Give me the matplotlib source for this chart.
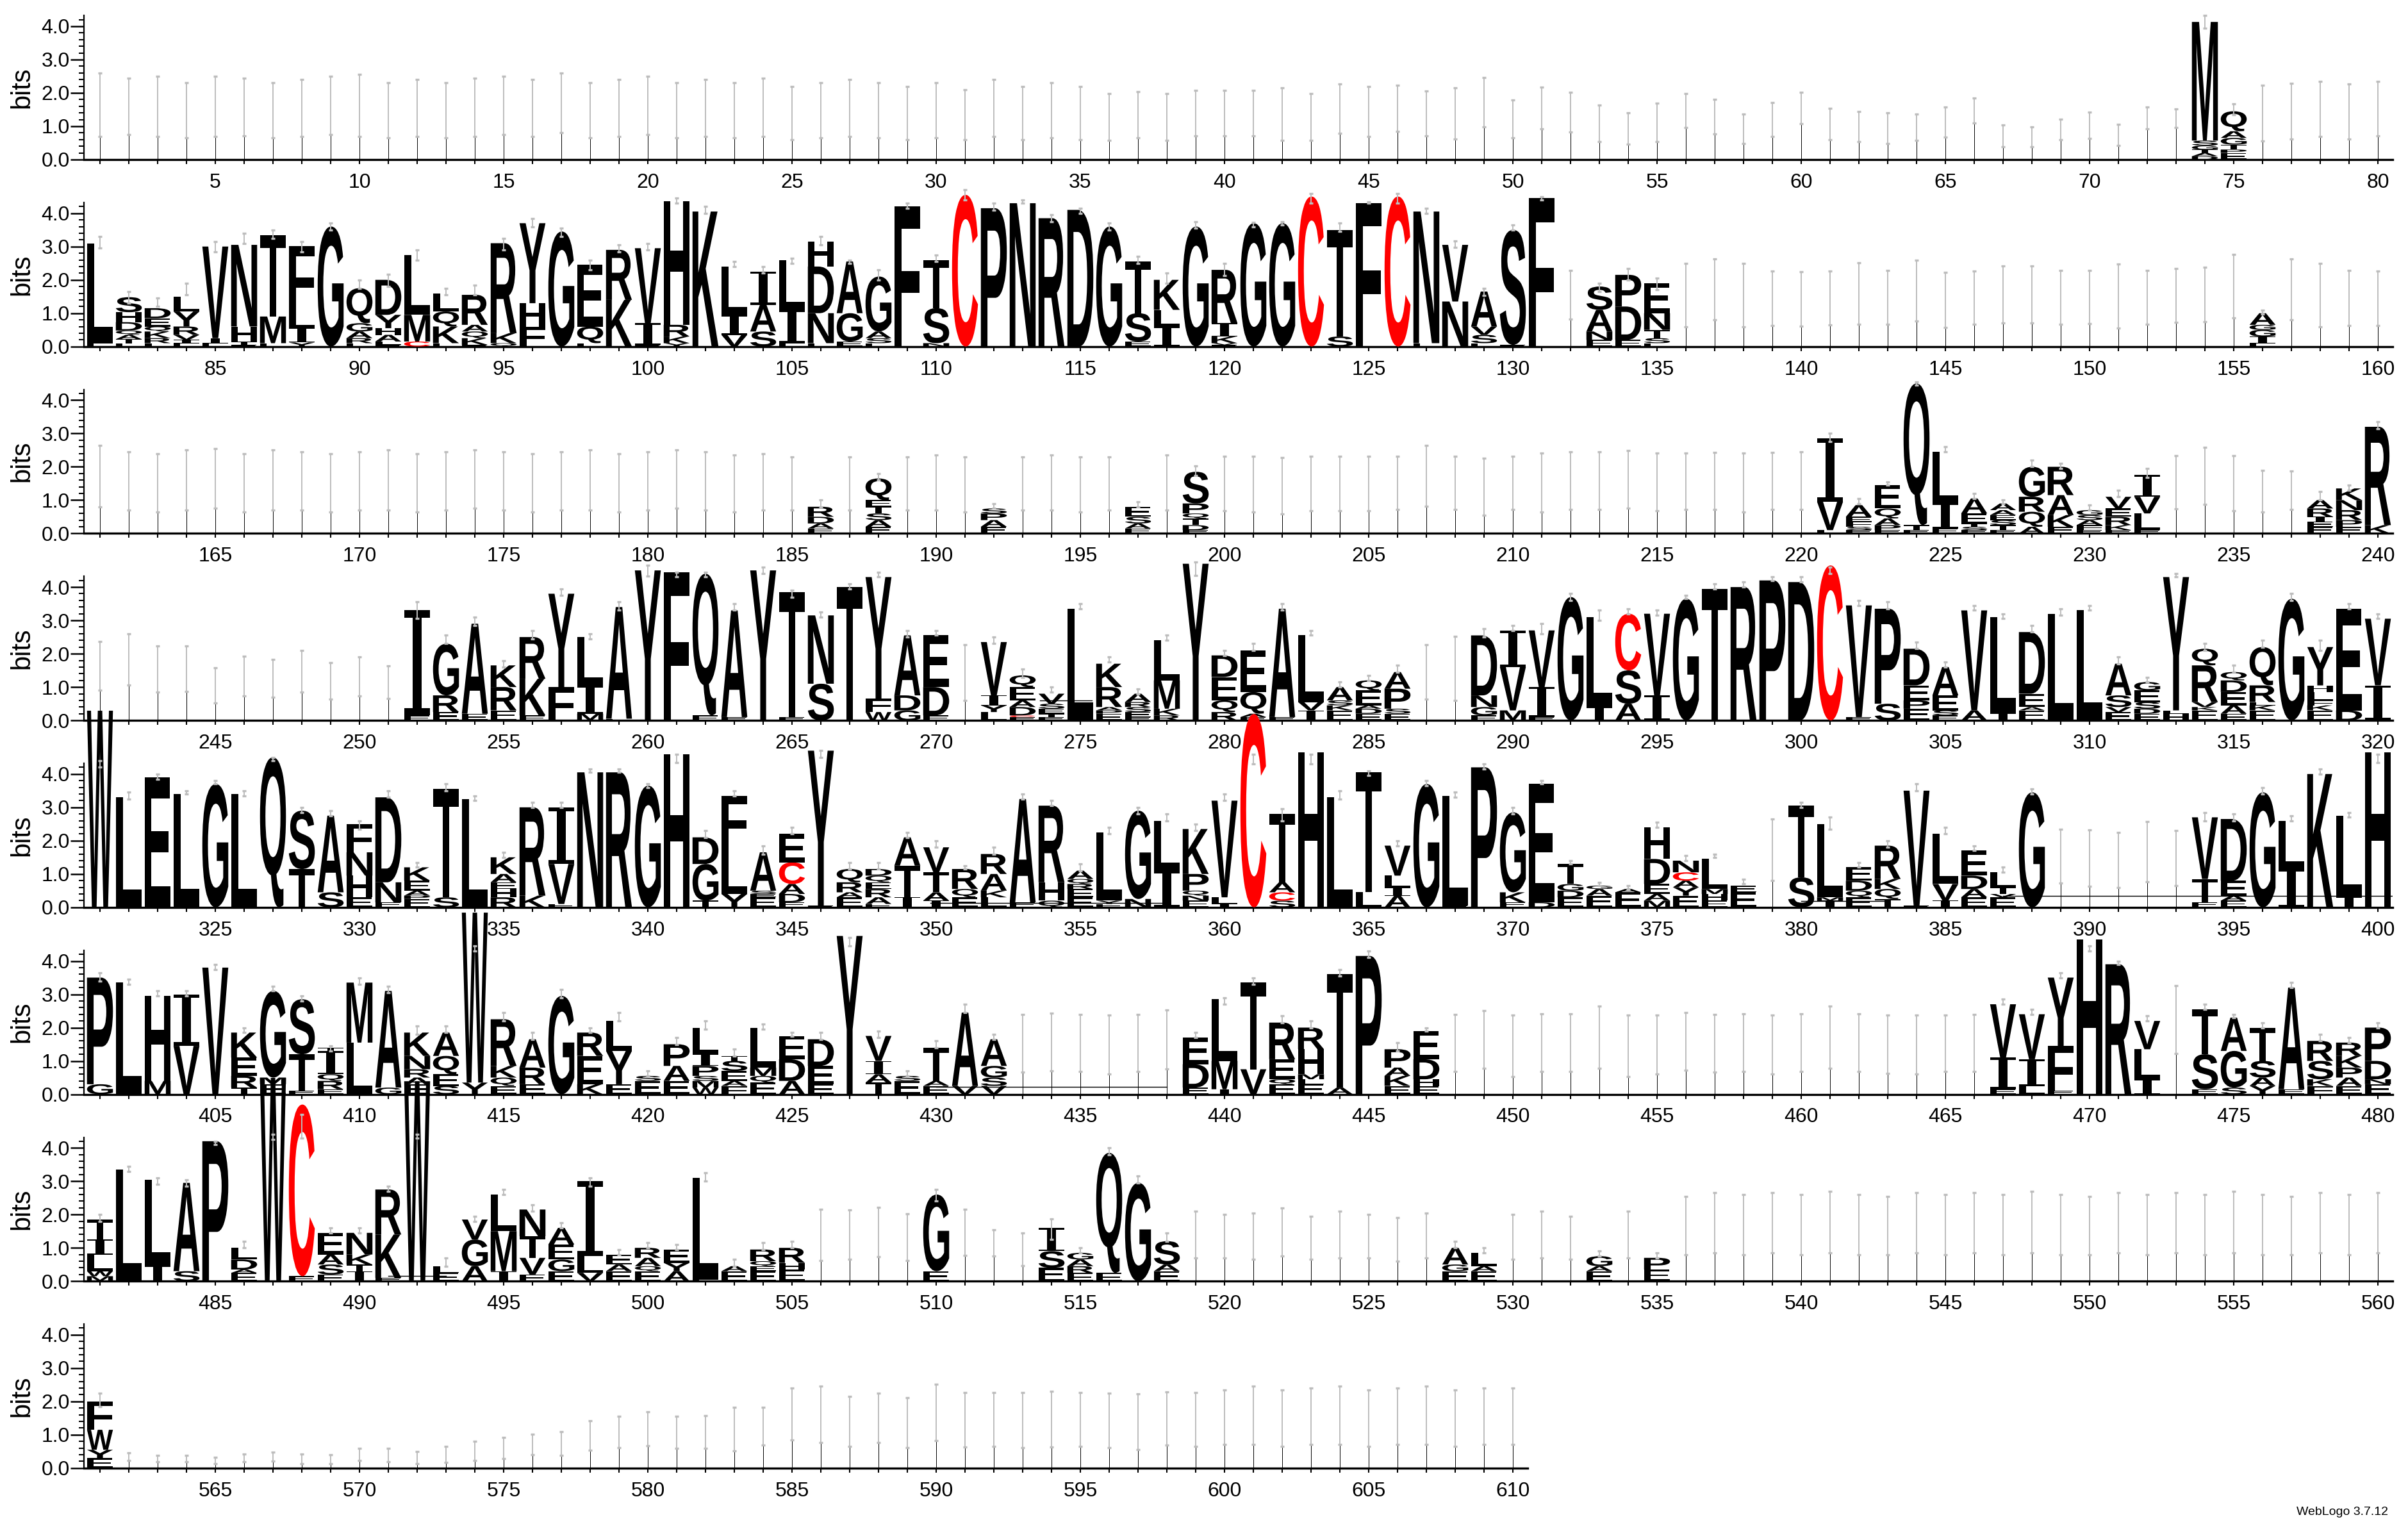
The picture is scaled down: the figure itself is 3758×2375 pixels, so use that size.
import matplotlib
matplotlib.use("Agg")
import matplotlib.pyplot as plt
from matplotlib.textpath import TextPath
from matplotlib.patches import PathPatch
from matplotlib.font_manager import FontProperties
from matplotlib.transforms import Affine2D
from matplotlib.ticker import MultipleLocator

plt.rcParams['font.family'] = ['Liberation Sans', 'DejaVu Sans']

# ---- data: stacks are letter+height (bits), bottom to top; then error bar lo, hi ----
row1_letters = {
    74: ("D.1 A.1 T.1 G.12 S.15 M3.56", 3.94, 4.33),
    75: ("E.2 P.1 T.15 G.2 A.2 Q.6", 1.35, 1.68),
}
row1_gaps = {
    1: (0.7, 2.6), 2: (0.75, 2.45), 3: (0.7, 2.5), 4: (0.65, 2.3), 5: (0.7, 2.5),
    6: (0.72, 2.45), 7: (0.65, 2.3), 8: (0.7, 2.4), 9: (0.75, 2.5), 10: (0.7, 2.55),
    11: (0.65, 2.3), 12: (0.7, 2.4), 13: (0.65, 2.3), 14: (0.7, 2.45), 15: (0.75, 2.5),
    16: (0.7, 2.4), 17: (0.8, 2.6), 18: (0.65, 2.3), 19: (0.7, 2.4), 20: (0.75, 2.5),
    21: (0.65, 2.3), 22: (0.7, 2.4), 23: (0.65, 2.3), 24: (0.7, 2.45), 25: (0.6, 2.2),
    26: (0.65, 2.3), 27: (0.7, 2.4), 28: (0.65, 2.3), 29: (0.6, 2.2), 30: (0.65, 2.3),
    31: (0.6, 2.1), 32: (0.7, 2.4), 33: (0.6, 2.2), 34: (0.65, 2.3), 35: (0.6, 2.2),
    36: (0.58, 1.98), 37: (0.65, 2.03), 38: (0.57, 1.99), 39: (0.72, 2.07), 40: (0.72, 2.08),
    41: (0.72, 2.08), 42: (0.58, 2.15), 43: (0.58, 1.98), 44: (0.78, 2.26), 45: (0.69, 2.19),
    46: (0.84, 2.24), 47: (0.72, 2.06), 48: (0.62, 2.15), 49: (0.99, 2.47), 50: (0.65, 1.79),
    51: (0.92, 2.17), 52: (0.83, 2.01), 53: (0.53, 1.63), 54: (0.47, 1.40), 55: (0.54, 1.70),
    56: (0.97, 1.99), 57: (0.76, 1.81), 58: (0.49, 1.37), 59: (0.69, 1.72), 60: (1.07, 2.01),
    61: (0.60, 1.54), 62: (0.53, 1.44), 63: (0.49, 1.40), 64: (0.57, 1.37), 65: (0.68, 1.57),
    66: (1.10, 1.85), 67: (0.39, 1.03), 68: (0.39, 0.99), 69: (0.60, 1.21), 70: (0.64, 1.42),
    71: (0.42, 1.05), 72: (0.93, 1.57), 73: (0.96, 1.51), 76: (0.56, 2.24), 77: (0.62, 2.28),
    78: (0.70, 2.34), 79: (0.62, 2.26), 80: (0.72, 2.34),
}

row2_letters = {
    81: ("E.1 L3.0", 2.95, 3.3), 82: ("E.1 T.12 A.13 Q.13 D.25 H.3 S.45", 1.3, 1.65),
    83: ("L.1 R.15 K.2 Q.15 E.25 D.3", 1.2, 1.45), 84: ("E.1 I.1 V.15 R.25 Y.45 L.45", 1.55, 1.9),
    85: ("E.1 I.15 V2.75", 2.85, 3.15), 86: ("E.05 T.1 H.45 N2.45", 3.1, 3.4),
    87: ("E.1 M.8 T2.45", 3.25, 3.5), 88: ("Y.12 I.45 L.45 F2.0", 2.85, 3.15),
    89: ("G3.6", 3.5, 3.7), 90: ("E.1 R.15 A.2 G.25 Q1.05", 1.75, 2.0),
    91: ("E.05 L.1 A.2 H.2 Y.4 D1.05", 1.8, 2.17), 92: ("C.15 M.8 L1.8", 2.6, 2.9),
    93: ("E.1 K.5 Q.45 L.55", 1.55, 1.75), 94: ("E.05 K.2 Q.2 A.2 R.9", 1.55, 1.85),
    95: ("Q.1 K.3 R2.7", 2.9, 3.25), 96: ("F.6 H.7 Y2.4", 3.6, 3.85),
    97: ("G3.45", 3.3, 3.55), 98: ("E.1 Q.5 E1.85", 2.3, 2.6),
    99: ("K1.4 R1.5", 2.85, 3.05), 100: ("E.05 I.65 V2.25", 2.9, 3.1),
    101: ("Y.1 K.2 R.35 H3.7", 4.3, 4.45), 102: ("K4.05", 4.0, 4.2),
    103: ("V.35 I.6 L1.45", 2.4, 2.55), 104: ("S.45 A.8 I1.0", 2.2, 2.4),
    105: ("E.1 I1.0 L1.5", 2.5, 2.65), 106: ("E.1 N.9 D1.4 H.75", 3.05, 3.3),
    107: ("E.15 G.85 A1.55", 2.5, 2.6), 108: ("E.1 S.15 A.2 G1.65", 2.0, 2.3),
    109: ("L.1 F4.1", 4.15, 4.3), 110: ("N.1 S1.05 T1.45", 2.55, 2.75),
    111: ("C4.55", 4.4, 4.7), 112: ("P4.15", 4.1, 4.3), 113: ("N4.3", 4.3, 4.4),
    114: ("R3.85", 3.75, 3.95), 115: ("D4.1", 4.0, 4.15), 116: ("G3.6", 3.5, 3.7),
    117: ("E.15 S.85 T1.55", 2.5, 2.7), 118: ("I.6 L.5 K.9", 1.9, 2.2),
    119: ("G3.6", 3.55, 3.74), 120: ("E.05 V.05 K.2 I.4 R1.6", 2.13, 2.49),
    121: ("G3.7", 3.6, 3.72), 122: ("G3.7", 3.65, 3.75), 123: ("C4.5", 4.3, 4.6),
    124: ("S.3 T3.2", 3.45, 3.7), 125: ("F4.3", 4.3, 4.35), 126: ("C4.5", 4.3, 4.6),
    127: ("E.1 N3.95", 4.0, 4.15), 128: ("N1.35 V1.7", 2.97, 3.16),
    129: ("E.1 S.25 V.25 A1.05", 1.53, 1.75), 130: ("E.05 S3.45", 3.5, 3.65),
    131: ("F4.45", 4.4, 4.5), 133: ("E.2 N.25 A.65 S.7", 1.65, 1.9),
    134: ("E.2 D1.0 P.95", 2.0, 2.35), 135: ("E.1 S.15 T.25 N.5 E.9", 1.7, 2.05),
    156: ("E.1 I.2 G.2 G.15 A.35", 0.98, 1.1),
}
row2_gaps = {
    132: (0.82, 2.29), 136: (0.6, 2.49), 137: (0.8, 2.62), 138: (0.6, 2.5), 139: (0.62, 2.26),
    140: (0.61, 2.25), 141: (0.64, 2.27), 142: (0.66, 2.52), 143: (0.66, 2.29), 144: (0.76, 2.59),
    145: (0.57, 2.22), 146: (0.67, 2.26), 147: (0.71, 2.42), 148: (0.71, 2.42), 149: (0.67, 2.29),
    150: (0.69, 2.29), 151: (0.55, 2.48), 152: (0.67, 2.29), 153: (0.72, 2.35), 154: (0.74, 2.38),
    155: (0.86, 2.77), 157: (0.8, 2.62), 158: (0.6, 2.5), 159: (0.62, 2.29), 160: (0.62, 2.27),
}

row3_letters = {
    186: ("E.15 A.15 D.2 R.3", 0.8, 1.0), 188: ("E.2 A.2 S.2 T.2 E.2 Q.65", 1.6, 1.8),
    192: ("E.2 A.2 P.2 S.15", 0.75, 0.9), 197: ("E.15 A.15 S.2 E.3", 0.8, 0.95),
    199: ("E.1 D.15 T.2 Q.15 P.3 S.95", 1.74, 2.03),
    221: ("L.1 V.85 I1.9", 2.75, 3.0), 222: ("E.1 S.1 F.15 E.15 A.35", 0.9, 1.05),
    223: ("E.1 P.15 A.2 Q.3 E.7", 1.45, 1.55), 224: ("E.1 T.15 Q4.25", 4.45, 4.55),
    225: ("E.15 I.75 L1.55", 2.45, 2.6), 226: ("E.1 S.1 T.1 E.3 A.45", 1.05, 1.2),
    227: ("E.1 T.15 S.15 E.15 A.15 A.2", 0.9, 1.0), 228: ("A.2 Q.45 R.45 G.9", 2.0, 2.2),
    229: ("E.2 K.35 A.6 R.85", 1.95, 2.1), 230: ("E.1 F.15 A.15 S.15 G.15", 0.7, 0.85),
    231: ("E.1 K.15 R.25 E.25 V.35", 1.1, 1.3), 232: ("E.1 L.5 V.5 I.65", 1.68, 1.95),
    238: ("E.2 E.15 I.15 R.25 A.25", 1.0, 1.25), 239: ("E.2 P.2 R.3 N.3 K.35", 1.3, 1.45),
    240: ("K.25 R2.95", 3.15, 3.35),
}
row3_gaps = {
    161: (0.8, 2.65), 162: (0.7, 2.45), 163: (0.65, 2.4), 164: (0.7, 2.5), 165: (0.75, 2.55),
    166: (0.65, 2.4), 167: (0.7, 2.5), 168: (0.7, 2.45), 169: (0.65, 2.4), 170: (0.7, 2.45),
    171: (0.7, 2.5), 172: (0.65, 2.4), 173: (0.7, 2.45), 174: (0.75, 2.5), 175: (0.7, 2.45),
    176: (0.65, 2.4), 177: (0.7, 2.45), 178: (0.7, 2.5), 179: (0.65, 2.4), 180: (0.7, 2.45),
    181: (0.75, 2.5), 182: (0.7, 2.45), 183: (0.65, 2.35), 184: (0.7, 2.4), 185: (0.7, 2.3),
    187: (0.7, 2.3), 189: (0.7, 2.3), 190: (0.7, 2.35), 191: (0.65, 2.3), 193: (0.7, 2.3),
    194: (0.7, 2.35), 195: (0.65, 2.3), 196: (0.7, 2.3), 198: (0.7, 2.35),
    200: (0.68, 2.31), 201: (0.65, 2.31), 202: (0.59, 2.27), 203: (0.68, 2.31), 204: (0.68, 2.31),
    205: (0.68, 2.31), 206: (0.72, 2.32), 207: (0.82, 2.64), 208: (0.72, 2.32), 209: (0.55, 2.25),
    210: (0.71, 2.31), 211: (0.65, 2.41), 212: (0.72, 2.45), 213: (0.72, 2.45), 214: (0.76, 2.49),
    215: (0.68, 2.42), 216: (0.71, 2.42), 217: (0.72, 2.44), 218: (0.65, 2.41), 219: (0.71, 2.44),
    220: (0.72, 2.45), 233: (0.74, 2.33), 234: (0.88, 2.59), 235: (0.69, 2.33), 236: (0.65, 1.9),
    237: (0.72, 1.87),
}

row4_letters = {
    252: ("E.15 I3.15", 3.05, 3.55), 253: ("E.25 R.5 G1.55", 2.3, 2.55),
    254: ("E.2 A2.7", 2.85, 3.1), 255: ("E.3 R.7 K.65", 1.6, 1.8),
    256: ("E.15 K1.1 R1.25", 2.45, 2.7), 257: ("F1.0 Y2.8", 3.75, 3.95),
    258: ("M.2 I.85 L1.45", 2.45, 2.6), 259: ("E.05 A3.35", 3.3, 3.55),
    260: ("Y4.5", 4.33, 4.65), 261: ("F4.45", 4.3, 4.45), 262: ("E.15 Q4.25", 4.3, 4.45),
    263: ("E.1 A3.2", 3.3, 3.5), 264: ("Y4.5", 4.4, 4.6), 265: ("E.1 T3.75", 3.7, 3.9),
    266: ("S1.1 N2.05", 3.1, 3.25), 267: ("T4.0", 3.95, 4.1), 268: ("W.25 F.4 Y3.65", 4.3, 4.45),
    269: ("G.3 D.45 A1.8", 2.5, 2.7), 270: ("E.15 D.85 E1.55", 2.55, 2.7),
    272: ("L.25 Y.2 I.3 V1.6", 2.3, 2.5), 273: ("E.1 C.05 D.25 A.2 E.4 Q.35", 1.3, 1.55),
    274: ("E.1 T.1 E.15 S.15 V.3", 0.85, 1.0), 275: ("L3.35", 3.35, 3.5),
    276: ("E.2 P.1 A.1 R.6 K.7", 1.75, 1.9), 277: ("E.1 E.15 S.15 R.15 A.25", 0.8, 0.95),
    278: ("R.15 K.2 M.85 L1.2", 2.4, 2.55), 279: ("Y4.7", 4.35, 4.75),
    280: ("R.25 Q.35 E.7 D.65", 1.95, 2.1), 281: ("E.1 A.1 Q.65 E1.25", 2.1, 2.3),
    282: ("E.1 A3.25", 3.3, 3.5), 283: ("I.3 V.25 L2.0", 2.55, 2.7),
    284: ("E.3 K.15 S.15 A.4", 1.0, 1.15), 285: ("E.2 D.15 A.1 E.45 Q.3", 1.2, 1.35),
    286: ("E.2 S.15 P.6 A.5", 1.45, 1.65), 289: ("E.15 G.25 N.35 D1.8", 2.5, 2.75),
    290: ("M.3 V1.3 I1.1", 2.7, 2.85), 291: ("E.1 I.9 V1.7", 2.6, 2.9),
    292: ("G3.7", 3.6, 3.8), 293: ("I.4 L2.7", 3.0, 3.3), 294: ("A.5 S1.0 C1.7", 3.2, 3.35),
    295: ("I.75 V2.45", 3.15, 3.3), 296: ("G3.65", 3.65, 3.75), 297: ("T3.95", 3.95, 4.1),
    298: ("R4.0", 4.0, 4.15), 299: ("P4.2", 4.2, 4.3), 300: ("D4.15", 4.15, 4.3),
    301: ("C4.65", 4.4, 4.6), 302: ("E.1 V3.35", 3.45, 3.6), 303: ("S.5 P2.85", 3.35, 3.55),
    304: ("E.35 P.25 E.45 D1.1", 2.15, 2.35), 305: ("E.15 S.15 E.45 A.85", 1.6, 1.75),
    306: ("A.3 V3.0", 3.3, 3.45), 307: ("I.2 L2.9", 3.05, 3.2),
    308: ("E.3 A.1 E.4 D1.85", 2.65, 2.85), 309: ("L3.2", 3.15, 3.35), 310: ("L3.3", 3.3, 3.45),
    311: ("E.25 V.15 S.35 A.95", 1.7, 1.9), 312: ("E.2 D.15 S.2 E.35 G.25", 1.15, 1.3),
    313: ("H.2 L.1 Y4.0", 4.3, 4.4), 314: ("E.3 K.1 V.15 R1.1 Q.5", 2.1, 2.3),
    315: ("E.2 A.25 E.4 D.35 Q.25", 1.45, 1.65), 316: ("E.3 K.15 E.1 R.5 Q1.15", 2.2, 2.4),
    317: ("G3.65", 3.6, 3.8), 318: ("E.3 K.15 F.15 L.25 H.2 Y1.15", 2.1, 2.4),
    319: ("D.3 E3.05", 3.35, 3.5), 320: ("I1.05 V2.0", 3.05, 3.2),
}
row4_gaps = {
    241: (0.9, 2.37), 242: (1.06, 2.6), 243: (0.85, 2.24), 244: (0.87, 2.24), 245: (0.53, 1.57),
    246: (0.74, 1.92), 247: (0.69, 1.83), 248: (0.84, 2.1), 249: (0.64, 1.74), 250: (0.74, 1.9),
    251: (0.65, 1.63), 271: (0.6, 2.27), 287: (0.63, 2.27), 288: (0.6, 2.52),
}

row5_letters = {
    321: ("W5.9", 4.2, 4.4), 322: ("L3.3", 3.25, 3.45), 323: ("E3.9", 3.85, 4.0),
    324: ("L3.4", 3.4, 3.5), 325: ("G3.7", 3.7, 3.8), 326: ("L3.4", 3.35, 3.5),
    327: ("Q4.5", 4.4, 4.5), 328: ("T1.15 S1.75", 2.85, 3.0), 329: ("S.45 A2.3", 2.75, 2.9),
    330: ("E.3 H.65 N.7 F.85", 2.35, 2.6), 331: ("E.15 N.6 D2.55", 3.3, 3.5),
    332: ("E.25 P.1 A.15 E.3 K.4", 1.2, 1.35), 333: ("S.3 T3.25", 3.5, 3.7),
    334: ("L3.25", 3.2, 3.35), 335: ("R.3 H.25 E.2 A.25 K.5", 1.5, 1.65),
    336: ("K.35 R2.65", 3.0, 3.15), 337: ("E.1 V1.2 I1.7", 3.0, 3.15),
    338: ("N4.05", 4.05, 4.15), 339: ("R4.05", 4.05, 4.15), 340: ("G3.65", 3.6, 3.7),
    341: ("H4.6", 4.35, 4.6), 342: ("T.2 G1.1 D.8", 2.1, 2.3), 343: ("Y.4 L1.4 F1.55", 3.35, 3.5),
    344: ("E.3 E.1 S.1 A1.15", 1.6, 1.85), 345: ("E.15 D.25 A.3 C.65 E.85", 2.2, 2.4),
    346: ("E.05 Y4.65", 4.5, 4.7), 347: ("E.3 A.15 R.3 Q.4", 1.15, 1.35),
    348: ("E.1 A.2 R.25 E.2 Q.2 D.2", 1.15, 1.35), 349: ("I.3 T.95 A.85", 2.1, 2.25),
    350: ("I.2 A.25 T.6 V.75", 1.8, 2.0), 351: ("E.3 Q.25 R.6", 1.15, 1.25),
    352: ("L.3 K.2 A.5 R.6", 1.6, 1.8), 353: ("E.15 A3.1", 3.25, 3.4),
    354: ("Q.2 H.55 R2.3", 3.05, 3.2), 355: ("E.3 E.25 R.15 Q.15 A.25", 1.1, 1.3),
    356: ("E.1 Y.1 L2.05", 2.2, 2.4), 357: ("N.25 G2.65", 2.8, 3.0), 358: ("I1.1 L1.5", 2.6, 2.8),
    359: ("E.2 N.15 Q.15 P.5 K1.35", 2.3, 2.5), 360: ("I.1 L.2 V2.9", 3.2, 3.4),
    361: ("C5.8", 4.3, 4.6), 362: ("S.2 C.25 A.3 T2.05", 2.6, 2.95), 363: ("H4.65", 4.3, 4.6),
    364: ("L3.3", 3.25, 3.5), 365: ("L.45 T3.6", 3.95, 4.1), 366: ("A.35 I.25 L.35 V.9", 1.85, 2.0),
    367: ("G3.7", 3.65, 3.8), 368: ("E.05 L3.3", 3.3, 3.45), 369: ("P4.2", 4.15, 4.3),
    370: ("E.15 K.3 G2.4", 2.8, 3.0), 371: ("D.15 E3.55", 3.7, 3.8),
    372: ("E.3 D.2 G.2 T.6", 1.3, 1.4), 373: ("E.35 A.2 G.1", 0.65, 0.75),
    374: ("E.45 A.1", 0.55, 0.65), 375: ("M.2 A.2 E.3 D.75 H.95", 2.4, 2.55),
    376: ("E.35 Y.25 A.2 C.25 N.35", 1.4, 1.55), 377: ("E.2 H.2 M.15 L.9", 1.5, 1.6),
    378: ("E.45 E.2", 0.7, 0.85), 380: ("S.9 T2.15", 3.0, 3.15), 381: ("I.2 M.1 L2.2", 2.35, 2.7),
    382: ("E.3 Q.2 D.3 E.4", 1.2, 1.35), 383: ("T.25 Q.3 K.3 R1.0", 1.8, 2.0),
    384: ("E.05 V3.45", 3.5, 3.7), 385: ("I.2 V.5 L1.5", 2.2, 2.4),
    386: ("E.3 A.25 D.4 E.75", 1.7, 1.85), 387: ("E.3 V.1 T.2 L.45", 1.05, 1.2),
    388: ("G3.45", 3.4, 3.55), 394: ("E.15 T.7 V1.85", 2.6, 2.85),
    395: ("E.2 A.15 E.45 D1.85", 2.6, 2.8), 396: ("G3.45", 3.4, 3.6),
    397: ("I1.15 L1.45", 2.6, 2.75), 398: ("K4.0", 4.0, 4.15), 399: ("I.3 L2.45", 2.7, 2.85),
    400: ("H4.65", 4.35, 4.6),
}
row5_gaps = {
    379: (0.81, 2.65), 389: (0.72, 2.35), 390: (0.63, 2.32), 391: (0.6, 2.24),
    392: (0.76, 2.58), 393: (0.65, 2.31),
}

row6_letters = {
    401: ("G.3 P3.2", 3.4, 3.65), 402: ("L3.35", 3.3, 3.45), 403: ("M.4 H2.55", 2.95, 3.1),
    404: ("V1.45 I1.55", 2.95, 3.1), 405: ("V3.8", 3.75, 3.9), 406: ("T.2 R.35 E.55 K.75", 1.85, 2.0),
    407: ("E.3 M.2 G2.6", 3.1, 3.25), 408: ("E.1 T1.1 S1.65", 2.8, 2.95),
    409: ("E.15 R.25 Q.2 I.7 T.1", 1.3, 1.45), 410: ("L1.55 M1.8", 3.3, 3.5),
    411: ("G.2 A2.9", 3.05, 3.25), 412: ("E.3 A.2 R.25 N.4 K.7", 1.8, 2.05),
    413: ("S.25 E.35 Q.55 A.7", 1.85, 2.05), 414: ("Y.35 W5.1", 4.3, 4.45),
    415: ("E.25 Q.25 K.35 R1.4", 2.2, 2.45), 416: ("E.3 R.5 A.85", 1.65, 1.85),
    417: ("G2.95", 2.9, 3.15), 418: ("K.3 E.85 R.7", 1.85, 2.0), 419: ("E.3 Y1.0 L.9", 2.2, 2.45),
    420: ("E.4 S.15", 0.55, 0.7), 421: ("E.4 A.45 P.65", 1.5, 1.7),
    422: ("W.2 M.2 S.15 P.3 I.35 L.8", 1.95, 2.2), 423: ("F.25 A.15 E.3 S.3 T.15", 1.15, 1.35),
    424: ("E.35 Q.2 M.25 L1.2", 1.95, 2.1), 425: ("A.4 D.65 E.7", 1.75, 1.85),
    426: ("E.3 E.55 D.8", 1.65, 1.85), 427: ("Y4.75", 4.45, 4.7),
    428: ("T.35 A.25 I.4 V.75", 1.7, 1.9), 429: ("E.4 S.15", 0.55, 0.7),
    430: ("E.25 A.15 T1.0", 1.4, 1.6), 431: ("V.25 A2.2", 2.45, 2.7),
    432: ("V.25 S.25 G.35 A.8", 1.65, 1.8), 439: ("E.2 D.7 E.8", 1.7, 1.85),
    440: ("I.15 M.85 L1.85", 2.7, 2.9), 441: ("V.75 T2.6", 3.3, 3.5),
    442: ("E.3 Q.15 E.6 R1.1", 2.15, 2.35), 443: ("E.3 L.15 M.15 H.75 R.65", 2.0, 2.2),
    444: ("A.2 T3.4", 3.55, 3.75), 445: ("P4.15", 4.1, 4.3), 446: ("E.25 K.3 A.25 P.55", 1.3, 1.55),
    447: ("E.25 H.2 D.6 E.85", 1.9, 2.0), 467: ("E.15 I.95 V1.6", 2.7, 2.85),
    468: ("L.25 I.8 V1.35", 2.4, 2.55), 469: ("E.1 F1.35 Y2.05", 3.5, 3.65),
    470: ("H4.65", 4.3, 4.45), 471: ("R3.9", 3.9, 4.0), 472: ("I.45 L.9 V.85", 2.2, 2.35),
    474: ("E.15 S1.05 T1.35", 2.55, 2.7), 475: ("S.2 G1.1 A1.0", 2.3, 2.4),
    476: ("Y.25 A.25 S.5 T1.0", 2.0, 2.15), 477: ("E.15 A3.05", 3.2, 3.35),
    478: ("F.25 K.2 S.55 R.6", 1.6, 1.8), 479: ("E.25 A.25 P.3 K.35 R.4", 1.55, 1.7),
    480: ("E.3 N.15 D.55 P1.0", 2.0, 2.15),
}
row6_gaps = {
    433: (0.67, 2.4), 434: (0.71, 2.44), 435: (0.69, 2.4), 436: (0.61, 2.37), 437: (0.69, 2.4),
    438: (0.76, 2.52), 448: (0.69, 2.4), 449: (0.78, 2.51), 450: (0.53, 2.37), 451: (0.69, 2.41),
    452: (0.69, 2.41), 453: (0.78, 2.65), 454: (0.53, 2.37), 455: (0.61, 2.37), 456: (0.72, 2.46),
    457: (0.67, 2.4), 458: (0.69, 2.41), 459: (0.61, 2.37), 460: (0.69, 2.41), 461: (0.78, 2.65),
    462: (0.69, 2.41), 463: (0.63, 2.38), 464: (0.61, 2.37), 465: (0.69, 2.38), 466: (0.69, 2.4),
    473: (1.22, 3.26),
}

row7_letters = {
    481: ("M.15 W.15 L.5 I.45 T.6", 1.8, 2.0), 482: ("L3.35", 3.3, 3.45),
    483: ("I.45 L2.6", 2.9, 3.1), 484: ("S.3 A2.65", 2.85, 3.05), 485: ("P4.2", 4.1, 4.2),
    486: ("E.25 A.1 D.3 L.35", 1.0, 1.2), 487: ("W6.1", 4.25, 4.4),
    488: ("E.15 C5.15", 4.3, 5.0), 489: ("E.2 S.3 A.3 E.65", 1.45, 1.6),
    490: ("I.3 T.2 K.3 N.65", 1.45, 1.6), 491: ("E.1 K1.3 R1.35", 2.7, 2.85),
    492: ("W6.0", 4.3, 4.4), 493: ("E.25 L.2", 0.45, 0.7), 494: ("A.45 G.8 V.6", 1.8, 1.95),
    495: ("I.3 M1.2 L1.1", 2.6, 2.75), 496: ("E.2 V.5 T.65 N.8", 2.1, 2.3),
    497: ("E.3 G.35 E.45 A.5", 1.6, 1.75), 498: ("V.25 L.5 I2.25", 2.85, 3.1),
    499: ("E.3 A.2 E.3", 0.8, 0.95), 500: ("E.3 Q.15 A.25 R.3", 1.0, 1.15),
    501: ("A.3 Y.25 E.4", 0.95, 1.1), 502: ("E.05 L3.05", 3.0, 3.25),
    503: ("E.3 A.15", 0.45, 0.65), 504: ("E.3 E.15 Q.15 R.35", 0.95, 1.15),
    505: ("E.35 H.2 R.45", 1.0, 1.2), 510: ("E.3 G2.3", 2.4, 2.75),
    514: ("E.4 S.5 I.7", 1.26, 1.87), 515: ("E.25 R.2 A.2 G.2", 0.85, 1.0),
    516: ("E.25 Q3.6", 3.8, 4.0), 517: ("G2.95", 2.95, 3.15), 518: ("E.3 A.2 S.7", 1.2, 1.45),
    528: ("E.3 G.2 A.5", 1.0, 1.2), 529: ("E.3 A.15 L.4", 0.85, 1.0),
    533: ("E.3 A.15 G.3", 0.75, 0.9), 535: ("E.35 P.35", 0.7, 0.85),
}
row7_gaps = {
    506: (0.62, 2.16), 507: (0.65, 2.13), 508: (0.73, 2.21), 509: (0.61, 2.02), 511: (0.78, 2.16),
    512: (0.75, 1.55), 513: (0.46, 1.44), 519: (0.7, 2.1), 520: (0.7, 2.0), 521: (0.65, 2.05),
    522: (0.75, 2.2), 523: (0.65, 1.95), 524: (0.7, 2.1), 525: (0.7, 2.0), 526: (0.6, 1.9),
    527: (0.7, 2.05), 530: (0.65, 2.0), 531: (0.7, 2.1), 532: (0.65, 1.95), 534: (0.7, 2.1),
    536: (0.8, 2.55), 537: (0.85, 2.65), 538: (0.8, 2.6), 539: (0.85, 2.65), 540: (0.8, 2.6),
    541: (0.85, 2.7), 542: (0.8, 2.6), 543: (0.8, 2.55), 544: (0.85, 2.65), 545: (0.8, 2.6),
    546: (0.85, 2.65), 547: (0.8, 2.6), 548: (0.85, 2.7), 549: (0.8, 2.6), 550: (0.8, 2.55),
    551: (0.85, 2.65), 552: (0.8, 2.6), 553: (0.85, 2.65), 554: (0.8, 2.6), 555: (0.85, 2.7),
    556: (0.8, 2.6), 557: (0.8, 2.55), 558: (0.85, 2.65), 559: (0.8, 2.6), 560: (0.85, 2.65),
}

row8_letters = {
    561: ("E.3 Y.25 W.6 F.85", 1.84, 2.25),
}
row8_gaps = {
    562: (0.22, 0.45), 563: (0.19, 0.39), 564: (0.19, 0.39), 565: (0.13, 0.33), 566: (0.19, 0.42),
    567: (0.21, 0.48), 568: (0.14, 0.42), 569: (0.13, 0.4), 570: (0.23, 0.6), 571: (0.19, 0.6),
    572: (0.13, 0.5), 573: (0.17, 0.65), 574: (0.22, 0.8), 575: (0.28, 0.92), 576: (0.4, 1.01),
    577: (0.38, 1.1), 578: (0.54, 1.42), 579: (0.61, 1.55), 580: (0.67, 1.69), 581: (0.6, 1.55),
    582: (0.6, 1.57), 583: (0.51, 1.83), 584: (0.69, 1.83), 585: (0.84, 2.4), 586: (0.77, 2.46),
    587: (0.65, 2.15), 588: (0.77, 2.25), 589: (0.61, 2.11), 590: (0.82, 2.51), 591: (0.63, 2.26),
    592: (0.65, 2.26), 593: (0.61, 2.26), 594: (0.63, 2.3), 595: (0.65, 2.26), 596: (0.61, 2.25),
    597: (0.55, 2.22), 598: (0.69, 2.29), 599: (0.65, 2.26), 600: (0.7, 2.35), 601: (0.7, 2.45),
    602: (0.65, 2.35), 603: (0.7, 2.4), 604: (0.7, 2.45), 605: (0.65, 2.35), 606: (0.7, 2.4),
    607: (0.7, 2.45), 608: (0.65, 2.35), 609: (0.7, 2.4), 610: (0.7, 2.4),
}

# thin flat glyph traces seen in the logo: (row index, height in bits, first pos, last pos)
flat_traces = [
    (3, 0.6, 273.6, 275.4),
    (4, 0.34, 387.0, 400.5),
    (4, 0.18, 380.0, 383.0),
    (4, 0.13, 349.8, 358.0),
    (5, 0.23, 430.0, 438.0),
    (6, 0.15, 491.0, 493.0),
]

row_starts = [1, 81, 161, 241, 321, 401, 481, 561]
row_lengths = [80, 80, 80, 80, 80, 80, 80, 50]
letters_by_row = [row1_letters, row2_letters, row3_letters, row4_letters,
                  row5_letters, row6_letters, row7_letters, row8_letters]
gaps_by_row = [row1_gaps, row2_gaps, row3_gaps, row4_gaps,
               row5_gaps, row6_gaps, row7_gaps, row8_gaps]

# ---- drawing ----
W, H = 3758, 2375
fig = plt.figure(figsize=(W / 100, H / 100), dpi=100)

logo_font = FontProperties(family="Liberation Sans", weight="bold")
serif_font = FontProperties(family="DejaVu Serif", weight="normal")
_glyph_cache = {}


def glyph(ch):
    if ch not in _glyph_cache:
        fp = serif_font if ch == "I" else logo_font
        p = TextPath((0, 0), ch, size=1, prop=fp)
        _glyph_cache[ch] = (p, p.get_extents())
    return _glyph_cache[ch]


def draw_letter(ax, ch, x, y0, h, color, width=0.9):
    p, ext = glyph(ch)
    t = (Affine2D().translate(-ext.x0, -ext.y0)
         .scale(width / ext.width, h / ext.height)
         .translate(x - width / 2, y0))
    ax.add_patch(PathPatch(t.transform_path(p), fc=color, ec="none", lw=0,
                           clip_on=False, zorder=3))


grey = "#bdbdbd"


def errbar(ax, x, lo, hi):
    ax.plot([x, x], [lo, hi], color=grey, lw=1.4, zorder=5, clip_on=False,
            solid_capstyle="butt")
    ax.plot([x, x], [lo, hi], ls="none", marker="_", ms=5, mew=2.4,
            color=grey, zorder=5, clip_on=False)


px_per_bit = 52
left_px = 131
axes = []
for i in range(8):
    start, n = row_starts[i], row_lengths[i]
    baseline = 249 + i * 291.7
    width_px = (n + 0.06) * 45
    ax = fig.add_axes([left_px / W, 1 - baseline / H, width_px / W, 4.32 * px_per_bit / H])
    axes.append(ax)
    ax.set_xlim(start - 0.556, start - 0.556 + width_px / 45)
    ax.set_ylim(0, 4.32)

    for pos, (stack, lo, hi) in letters_by_row[i].items():
        y = 0.0
        for tok in stack.split():
            ch, h = tok[0], float(tok[1:])
            draw_letter(ax, ch, pos, y, h, "#ff0000" if ch == "C" else "black")
            y += h
        errbar(ax, pos, lo, hi)
    for pos, (lo, hi) in gaps_by_row[i].items():
        ax.plot([pos, pos], [0, lo], color="black", lw=0.7, zorder=2)
        errbar(ax, pos, lo, hi)

    for s in ("top", "right"):
        ax.spines[s].set_visible(False)
    ax.spines["left"].set_linewidth(1.6)
    ax.spines["bottom"].set_linewidth(2.4)

    pos_all = list(range(start, start + n))
    ax.set_xticks(pos_all)
    ax.set_xticklabels([str(p) if p % 5 == 0 else "" for p in pos_all])
    ax.tick_params(axis="x", length=5, width=1.5, labelsize=23, pad=10)
    ax.set_yticks([0, 1, 2, 3, 4])
    ax.set_yticklabels(["0.0", "1.0", "2.0", "3.0", "4.0"])
    ax.yaxis.set_minor_locator(MultipleLocator(0.2))
    ax.tick_params(axis="y", which="major", length=15, width=1.8, labelsize=23, pad=1)
    ax.tick_params(axis="y", which="minor", length=6, width=1.5)
    ax.set_ylabel("bits", fontsize=30)
    ax.yaxis.set_label_coords(-(left_px - 54) / width_px, 0.5)
    ax.patch.set_alpha(0)

for r, yb, x0, x1 in flat_traces:
    axes[r].plot([x0, x1], [yb, yb], color="black", lw=1.0, zorder=4)

fig.text(3727 / W, 1 - 2360 / H, "WebLogo 3.7.12", ha="right", va="center", fontsize=14)

fig.savefig("out.png", dpi=100)
